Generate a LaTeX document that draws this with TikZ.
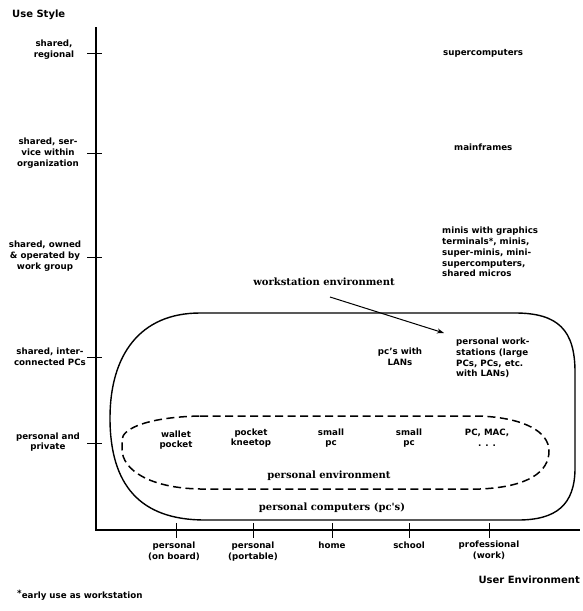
\documentclass[tikz,border=0pt]{standalone}
\usepackage{fontspec}
\setmainfont{DejaVu Sans}
\newfontfamily\lblserif{DejaVu Serif}
\usetikzlibrary{arrows.meta}
\tikzset{
  lbl/.style={font=\bfseries\fontsize{8.7}{10.8}\selectfont, align=center, inner sep=0pt},
  lbll/.style={lbl, align=left, anchor=west},
  envlbl/.style={font=\lblserif\bfseries\fontsize{10}{12}\selectfont, inner sep=0pt},
  axislbl/.style={font=\bfseries\fontsize{10}{12}\selectfont, inner sep=0pt},
  axisline/.style={line width=1.3pt},
  tickline/.style={line width=1pt},
  envline/.style={line width=1.4pt},
  envdash/.style={line width=1.5pt, dash pattern=on 8pt off 4.5pt},
}
\begin{document}
\begin{tikzpicture}[x=1pt,y=-1pt]
\useasboundingbox[fill=white] (0,0) rectangle (582,611);
% axes
\coordinate (ytop) at (96,27);
\coordinate (orig) at (96,530);
\coordinate (xend) at (580,530);
\draw[axisline] (ytop) -- (orig) -- (xend);
\node[axislbl, anchor=west] (ys) at (12,15) {Use Style};
\node[axislbl, anchor=east] (xs) at (580,580) {User Environment};
% y ticks
\foreach \yy in {53,153,257,357,443}{
  \draw[tickline] (87,\yy) -- (102,\yy);
}
\node[lbl] (la) at (54,50) {shared,\\regional};
\node[lbl] (lb) at (48,153) {shared, ser-\\vice within\\organization};
\node[lbl] (lc) at (45,256) {shared, owned\\\& operated by\\work group};
\node[lbl] (ld) at (50,357) {shared, inter-\\connected PCs};
\node[lbl] (le) at (48,442) {personal and\\private};
% x ticks
\foreach \xx in {176,253,332,409,489}{
  \draw[tickline] (\xx,523) -- (\xx,538);
}
\node[lbl, anchor=north] (xa) at (174,542) {personal\\(on board)};
\node[lbl, anchor=north] (xb) at (253,542) {personal\\(portable)};
\node[lbl, anchor=north] (xc) at (332,542) {home};
\node[lbl, anchor=north] (xd) at (409,542) {school};
\node[lbl, anchor=north] (xe) at (489,541) {professional\\(work)};
% footnote
\node[lbl, anchor=west] (fn) at (17,595) {\raisebox{0.35ex}{*}early use as workstation};
% right column
\node[lbl, anchor=west] (sc) at (443,53) {supercomputers};
\node[lbl, anchor=west] (mf) at (454,147) {mainframes};
\node[lbll] (mn) at (442,252) {minis with graphics\\terminals*, minis,\\super-minis, mini-\\supercomputers,\\shared micros};
\node[lbll] (pw) at (456,358) {personal work-\\stations (large\\PCs, PCs, etc.\\with LANs)};
\node[lbl] (pl) at (400,357) {pc's with\\LANs};
% workstation environment
\draw[envline] (200,313) -- (515,313) .. controls (558,313) and (575,330) .. (575,372)
  -- (575,468) .. controls (575,505) and (556,520) .. (518,520)
  -- (205,520) .. controls (140,520) and (110,485) .. (110,418)
  .. controls (110,355) and (140,313) .. (200,313);
\node[envlbl] (we) at (324,282) {workstation environment};
\coordinate (arrs) at (330,297);
\coordinate (arre) at (444,333);
\draw[line width=1pt, -{Stealth[length=7pt,width=5pt]}] (arrs) -- (arre);
% personal environment
\draw[envdash] (200,416) -- (480,416) .. controls (525,418) and (549,432) .. (549,451)
  .. controls (549,472) and (528,487) .. (480,489)
  -- (200,489) .. controls (150,488) and (122,470) .. (122,449)
  -- (122,440) .. controls (122,428) and (150,417) .. (200,416);
\node[lbl] (p1) at (176,440) {wallet\\pocket};
\node[lbl] (p2) at (251,438) {pocket\\kneetop};
\node[lbl] (p3) at (331,438) {small\\pc};
\node[lbl] (p4) at (409,438) {small\\pc};
\node[lbl] (p5) at (487,438) {PC, MAC,\\. . .};
\node[envlbl] (pe) at (329,476) {personal environment};
\node[envlbl] (pc) at (332,508) {personal computers (pc's)};
\end{tikzpicture}
\end{document}
